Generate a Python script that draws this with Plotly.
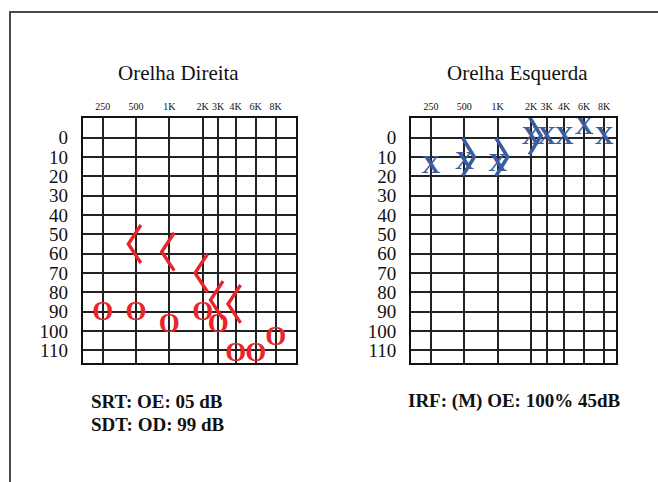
import plotly.graph_objects as go

# ---- data ----
freq_labels = ["250", "500", "1K", "2K", "3K", "4K", "6K", "8K"]
freq_pos = [0, 1, 2, 3, 3.465, 3.99, 4.59, 5.19]   # audiogram column scale
db_ticks = list(range(0, 120, 10))

# Orelha Direita (right ear): O = air, < = bone
od_air_freqs = ["250", "500", "1K", "2K", "3K", "4K", "6K", "8K"]
od_air_db = [91, 91, 97, 91, 97, 112, 112, 104]
od_bone_freqs = ["500", "1K", "2K", "3K", "4K"]
od_bone_db = [55, 59, 70, 84, 86]

# Orelha Esquerda (left ear): X = air, > = bone
oe_air_freqs = ["250", "500", "1K", "2K", "3K", "4K", "6K", "8K"]
oe_air_db = [15, 13, 14, 0, 0, 0, -5, 0]
oe_bone_freqs = ["500", "1K", "2K"]
oe_bone_db = [10, 10, -1]

titles = ["Orelha Direita", "Orelha Esquerda"]
notes_left = ["SRT: OE: 05 dB", "SDT: OD: 99 dB"]
notes_right = ["IRF: (M) OE: 100% 45dB"]

RED = "#e9252b"
BLUE = "#3b5c9e"
FONT = "Liberation Serif"
pos = dict(zip(freq_labels, freq_pos))

W, H = 658, 482


def px(x):
    return x / W


def py(y):
    return 1 - y / H


def chevron(freqs, dbs, tip_dx, arm_dx, half):
    X, Y = [], []
    for f, d in zip(freqs, dbs):
        x = pos[f]
        X += [x + arm_dx, x + tip_dx, x + arm_dx, None]
        Y += [d - half, d, d + half, None]
    return X, Y


fig = go.Figure()

# right ear (left panel)
fig.add_trace(go.Scatter(
    x=[pos[f] for f in od_air_freqs], y=od_air_db, mode="text",
    text=["<b>O</b>"] * len(od_air_db),
    textfont=dict(family=FONT, size=27, color=RED),
    textposition="middle center", cliponaxis=False, xaxis="x", yaxis="y"))
bx, by = chevron(od_bone_freqs, od_bone_db, -0.23, 0.145, 9.8)
fig.add_trace(go.Scatter(x=bx, y=by, mode="lines", line=dict(color=RED, width=3.4),
                         cliponaxis=False, xaxis="x", yaxis="y"))

# left ear (right panel)
fig.add_trace(go.Scatter(
    x=[pos[f] for f in oe_air_freqs], y=oe_air_db, mode="text",
    text=["<b>X</b>"] * len(oe_air_db),
    textfont=dict(family=FONT, size=26, color=BLUE),
    textposition="middle center", cliponaxis=False, xaxis="x2", yaxis="y2"))
bx, by = chevron(oe_bone_freqs, oe_bone_db, 0.3, -0.05, 9.8)
fig.add_trace(go.Scatter(x=bx, y=by, mode="lines", line=dict(color=BLUE, width=3.6),
                         cliponaxis=False, xaxis="x2", yaxis="y2"))

grid = dict(showgrid=True, gridcolor="#222222", gridwidth=1.6, zeroline=False,
            showline=True, linecolor="#111111", linewidth=2, mirror=True, ticks="")

ydom = [py(363.3), py(118.3)]
xaxis_common = dict(tickmode="array", tickvals=freq_pos, ticktext=freq_labels, side="top",
                    tickfont=dict(family=FONT, size=10, color="#111"), ticklabelstandoff=2, **grid)
yaxis_common = dict(tickmode="array", tickvals=db_ticks, ticktext=[str(v) for v in db_ticks],
                    range=[116.7, -10], tickfont=dict(family=FONT, size=19, color="#111"),
                    ticklabelstandoff=9, **grid)

fig.update_layout(
    width=W, height=H, margin=dict(l=0, r=0, t=0, b=0),
    paper_bgcolor="white", plot_bgcolor="white", showlegend=False,
    xaxis=dict(domain=[px(82.7), px(295.7)], range=[-0.6, 5.79], anchor="y", **xaxis_common),
    yaxis=dict(domain=ydom, anchor="x", **yaxis_common),
    xaxis2=dict(domain=[px(411), px(615.7)], range=[-0.6, 5.54], anchor="y2", **xaxis_common),
    yaxis2=dict(domain=ydom, anchor="x2", **yaxis_common),
)

annotations = []
for t, cx in zip(titles, [178, 517]):
    annotations.append(dict(text=t, x=px(cx), y=py(73), xref="paper", yref="paper",
                            xanchor="center", yanchor="middle", showarrow=False,
                            font=dict(family=FONT, size=21, color="#111")))
for t, cy in zip(notes_left, [401, 424]):
    annotations.append(dict(text=f"<b>{t}</b>", x=px(89), y=py(cy), xref="paper", yref="paper",
                            xanchor="left", yanchor="middle", showarrow=False,
                            font=dict(family=FONT, size=19, color="#111")))
for t, cy in zip(notes_right, [401]):
    annotations.append(dict(text=f"<b>{t}</b>", x=px(406), y=py(cy), xref="paper", yref="paper",
                            xanchor="left", yanchor="middle", showarrow=False,
                            font=dict(family=FONT, size=19, color="#111")))
fig.update_layout(annotations=annotations)

# page frame (decorative)
fig.add_shape(type="path", xref="paper", yref="paper",
              path=f"M {px(10)},{py(484)} L {px(10)},{py(12)} L {px(660)},{py(12)}",
              line=dict(color="#4a4a4a", width=2))

fig.write_html("out.html", config={"displayModeBar": False},
               post_script="document.body.style.margin='0';document.body.style.overflow='hidden';")
